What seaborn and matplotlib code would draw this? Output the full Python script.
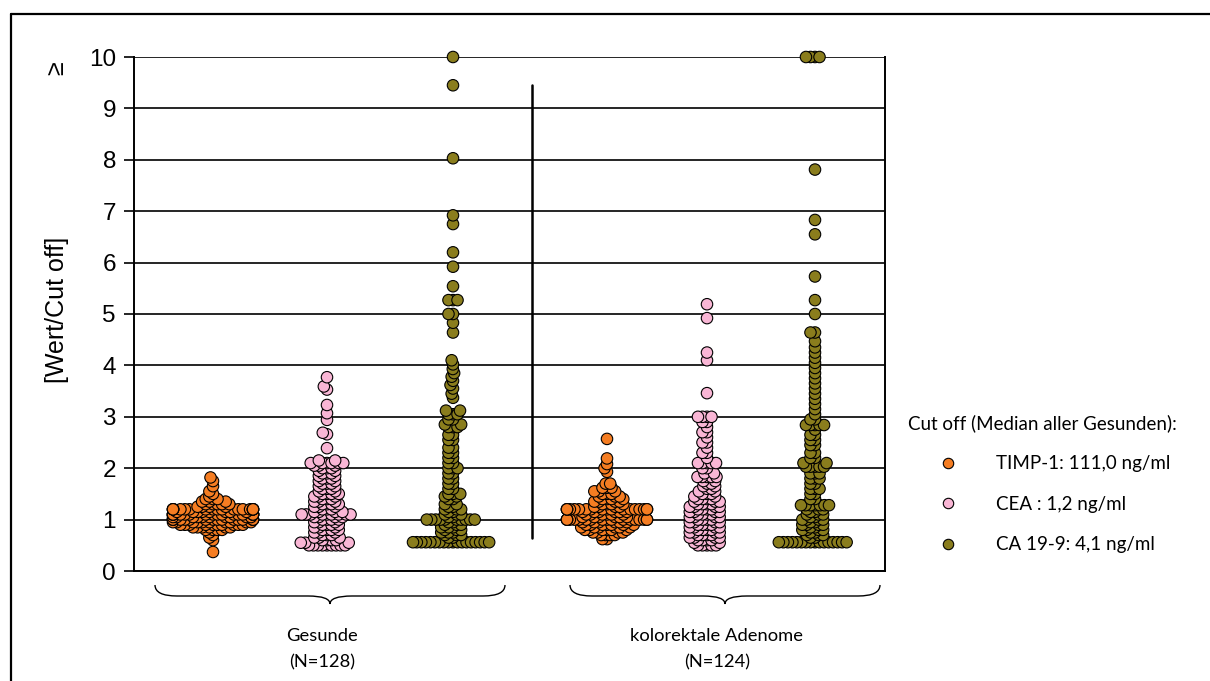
import numpy as np
import pandas as pd
import matplotlib.pyplot as plt
from matplotlib.lines import Line2D
from matplotlib.path import Path
from matplotlib.patches import PathPatch
import seaborn as sns

# Groups and markers
groups = ["Gesunde", "kolorektale Adenome"]
group_n = [128, 124]
markers = ["TIMP-1: 111,0 ng/ml", "CEA : 1,2 ng/ml", "CA 19-9: 4,1 ng/ml"]
legend_title = "Cut off (Median aller Gesunden):"
y_label = "[Wert/Cut off]"
y_ticks = list(range(0, 11))

timp_g_lvl = [0.37, 0.6, 0.65, 0.7, 0.75, 0.8, 0.85, 0.9, 0.95, 1.0, 1.05, 1.1, 1.15, 1.2,
              1.25, 1.3, 1.35, 1.4, 1.45, 1.5, 1.55, 1.65, 1.75, 1.82]
timp_g_cnt = [1, 1, 1, 1, 1, 4, 6, 10, 10, 16, 10, 19, 8, 19,
              4, 5, 3, 3, 1, 1, 1, 1, 1, 1]

cea_g_lvl = [0.5, 0.55, 0.6, 0.65, 0.7, 0.75, 0.8, 0.85, 0.9, 0.95,
             1.0, 1.05, 1.1, 1.15, 1.2, 1.25, 1.3, 1.35, 1.4, 1.45,
             1.5, 1.55, 1.6, 1.65, 1.7, 1.75, 1.8, 1.85, 1.9, 1.95,
             2.0, 2.05, 2.1, 2.15, 2.39, 2.66, 2.69, 2.94, 3.07, 3.23, 3.53, 3.59, 3.77]
cea_g_cnt = [9, 3, 4, 3, 3, 3, 4, 3, 4, 3,
             4, 4, 9, 4, 3, 3, 4, 3, 3, 3,
             4, 2, 3, 2, 3, 2, 3, 2, 3, 2,
             3, 3, 6, 2, 1, 1, 1, 1, 1, 1, 1, 1, 1]

ca_g_lvl = [0.56, 0.65, 0.7, 0.75, 0.8, 0.85, 0.9, 0.95, 1.0,
            1.05, 1.1, 1.15, 1.2, 1.25, 1.3,
            1.4, 1.45, 1.5, 1.6, 1.7, 1.8, 1.9, 2.0, 2.1, 2.2, 2.3, 2.4,
            2.55, 2.65, 2.8, 2.85, 2.95, 3.05, 3.12,
            3.37, 3.45, 3.55, 3.62, 3.7, 3.78, 3.85, 3.93, 4.02, 4.1,
            4.64, 4.83, 5.0, 5.27, 5.54, 5.92, 6.2, 6.75, 6.92, 8.03, 9.45, 10.0]
ca_g_cnt = [18, 2, 3, 3, 3, 3, 3, 2, 10,
            2, 3, 2, 3, 2, 2,
            2, 2, 3, 2, 2, 2, 2, 3, 2, 2, 2, 2,
            2, 2, 3, 2, 2, 3, 2,
            1, 1, 1, 1, 1, 1, 1, 1, 1, 1,
            1, 1, 2, 3, 1, 1, 1, 1, 1, 1, 1, 1]

timp_a_lvl = [0.62, 0.7, 0.75, 0.8, 0.85, 0.9, 0.95, 1.0, 1.05, 1.1, 1.15, 1.2, 1.25,
              1.3, 1.35, 1.4, 1.45, 1.5, 1.55, 1.62, 1.7, 1.93, 2.0, 2.08, 2.19, 2.57]
timp_a_cnt = [2, 4, 4, 6, 6, 7, 6, 18, 6, 6, 6, 18, 4,
              4, 4, 4, 3, 3, 3, 3, 2, 1, 1, 1, 1, 1]

cea_a_lvl = [0.5, 0.55, 0.6, 0.65, 0.7, 0.75, 0.8, 0.85, 0.9, 0.95,
             1.0, 1.05, 1.1, 1.15, 1.2, 1.25, 1.3, 1.35, 1.4,
             1.45, 1.5, 1.55, 1.6, 1.65, 1.7, 1.75,
             1.83, 1.9, 2.0, 2.1, 2.2, 2.3, 2.4, 2.5, 2.6, 2.7, 2.8, 2.9,
             3.0, 3.46, 4.1, 4.25, 4.92, 5.19]
cea_a_cnt = [5, 2, 4, 4, 4, 4, 4, 4, 4, 4,
             4, 4, 4, 4, 4, 4, 4, 3, 4,
             2, 3, 2, 2, 2, 2, 2,
             5, 2, 2, 5, 1, 2, 1, 2, 1, 2, 1, 2,
             4, 1, 1, 1, 1, 1]

ca_a_lvl = [0.56, 0.65, 0.7, 0.75, 0.8, 0.85, 0.9, 0.95, 1.0, 1.05, 1.1, 1.15, 1.2, 1.28,
            1.4, 1.5, 1.6, 1.7, 1.8, 1.9, 2.03, 2.1, 2.2, 2.3, 2.45, 2.55, 2.65, 2.75, 2.84, 2.95,
            3.05, 3.15, 3.25, 3.35, 3.45, 3.55, 3.65, 3.75, 3.85, 3.95, 4.05, 4.15, 4.25, 4.35,
            4.47, 4.64, 5.0, 5.27, 5.73, 6.55, 6.83, 7.81, 10.0]
ca_a_cnt = [16, 2, 3, 2, 4, 2, 4, 2, 4, 2, 3, 2, 3, 7,
            2, 2, 3, 2, 3, 3, 5, 2, 2, 2, 2, 2, 2, 1, 5, 2,
            1, 1, 1, 1, 1, 1, 1, 1, 1, 1, 1, 1, 1, 1,
            1, 2, 1, 1, 1, 1, 1, 1, 4]

colors = ["#F57D22", "#F9B6D5", "#8A7D1D"]

# Build the long table
series = [
    (groups[0], markers[0], timp_g_lvl, timp_g_cnt),
    (groups[0], markers[1], cea_g_lvl, cea_g_cnt),
    (groups[0], markers[2], ca_g_lvl, ca_g_cnt),
    (groups[1], markers[0], timp_a_lvl, timp_a_cnt),
    (groups[1], markers[1], cea_a_lvl, cea_a_cnt),
    (groups[1], markers[2], ca_a_lvl, ca_a_cnt),
]
frames = []
for grp, mk, lvl, cnt in series:
    frames.append(pd.DataFrame({"group": grp, "marker": mk,
                                "value": np.repeat(lvl, cnt)}))
df = pd.concat(frames, ignore_index=True)

# Layout: column position of each swarm (axis runs 0..7.51)
slot_x = {
    (groups[0], markers[0]): 0.79, (groups[0], markers[1]): 1.93, (groups[0], markers[2]): 3.19,
    (groups[1], markers[0]): 4.73, (groups[1], markers[1]): 5.73, (groups[1], markers[2]): 6.81,
}
df["x"] = [slot_x[(g, m)] for g, m in zip(df["group"], df["marker"])]

sns.set_style("white")
plt.rcParams["font.family"] = ["Liberation Sans", "DejaVu Sans"]
plt.rcParams["text.color"] = "black"
plt.rcParams["ytick.color"] = "black"
plt.rcParams["axes.labelcolor"] = "black"

W, H = 1210, 681
fig = plt.figure(figsize=(W / 100, H / 100), dpi=100)
ax = fig.add_axes([134 / W, 1 - 571 / H, 751 / W, 514 / H])

# Swarm layout with small markers, enlarged afterwards so they overlap
sns.swarmplot(data=df, x="x", y="value", hue="marker", hue_order=markers,
              palette=dict(zip(markers, colors)), native_scale=True,
              size=3.1, linewidth=0, legend=False, warn_thresh=1, ax=ax)
ax.set_xlim(0, 7.51)
ax.set_ylim(0, 10)
fig.canvas.draw()
for coll in ax.collections:
    coll.__dict__.pop("draw", None)
    coll.set_sizes([68])
    coll.set_edgecolor("black")
    coll.set_linewidth(0.8)
    coll.set_clip_on(False)
    coll.set_zorder(3)

ax.set_xlim(0, 7.51)
ax.set_ylim(0, 10)
ax.set_xticks([])
ax.set_xlabel("")
ax.set_ylabel("")
ax.set_yticks(y_ticks)
ax.tick_params(axis="y", length=7, width=1.2, labelsize=17.5, pad=6, left=True,
               colors="black")
ax.yaxis.grid(True, color="black", lw=1.2)
ax.set_axisbelow(True)
for side in ["left", "bottom", "right"]:
    ax.spines[side].set_color("black")
    ax.spines[side].set_linewidth(1.4)
ax.spines["top"].set_visible(False)

# Divider between the two groups
ax.plot([3.98, 3.98], [0.65, 9.45], color="black", lw=1.8, zorder=2)

ax.text(-0.1025, 0.508, y_label, rotation=90, transform=ax.transAxes,
        ha="center", va="center", fontsize=18)
ax.text(-0.104, 0.978, "≥", rotation=90, transform=ax.transAxes,
        ha="center", va="center", fontsize=18)

# Legend
handles = [Line2D([], [], ls="none", marker="o", ms=7.5, mfc=c, mec="black", mew=0.8)
           for c in colors]
leg = fig.legend(handles, markers, title=legend_title, loc="upper left",
                 bbox_to_anchor=(908 / W, 1 - 414 / H), frameon=False,
                 prop=dict(family="Lato", size=13.5),
                 title_fontproperties=dict(family="Lato", size=13.5),
                 handlelength=4.3, handletextpad=0.4, labelspacing=1.25,
                 borderpad=0, borderaxespad=0)
leg._legend_box.align = "left"


# Curly braces below the groups (figure pixel coordinates)
def fig_pt(x, y):
    return (x / W, 1 - y / H)


def brace(x0, x1, xt, y_top=585, y_mid=596, y_tip=604, r=22):
    pts = [(x0, y_top), (x0, y_mid), (x0 + r, y_mid),
           (xt - r, y_mid), (xt, y_mid), (xt, y_tip),
           (xt, y_mid), (xt + r, y_mid),
           (x1 - r, y_mid), (x1, y_mid), (x1, y_top)]
    codes = [Path.MOVETO, Path.CURVE3, Path.CURVE3,
             Path.LINETO, Path.CURVE3, Path.CURVE3,
             Path.CURVE3, Path.CURVE3,
             Path.LINETO, Path.CURVE3, Path.CURVE3]
    path = Path([fig_pt(*p) for p in pts], codes)
    fig.add_artist(PathPatch(path, fill=False, lw=1.0, ec="black",
                             transform=fig.transFigure))


brace(155, 505, 330)
brace(570, 880, 725)

for cx, name, n in [(322, groups[0], group_n[0]), (717, groups[1], group_n[1])]:
    fig.text(*fig_pt(cx, 636), name, ha="center", va="center", family="Lato", fontsize=13.2)
    fig.text(*fig_pt(cx, 662), f"(N={n})", ha="center", va="center", family="Lato", fontsize=13.2)

# Outer frame (cut by the picture edges)
fig.add_artist(Line2D([11 / W, 1], [1 - 14 / H] * 2, transform=fig.transFigure,
                      color="black", lw=1.6))
fig.add_artist(Line2D([11 / W] * 2, [0, 1 - 14 / H], transform=fig.transFigure,
                      color="black", lw=1.6))

fig.savefig("out.png", dpi=100)
